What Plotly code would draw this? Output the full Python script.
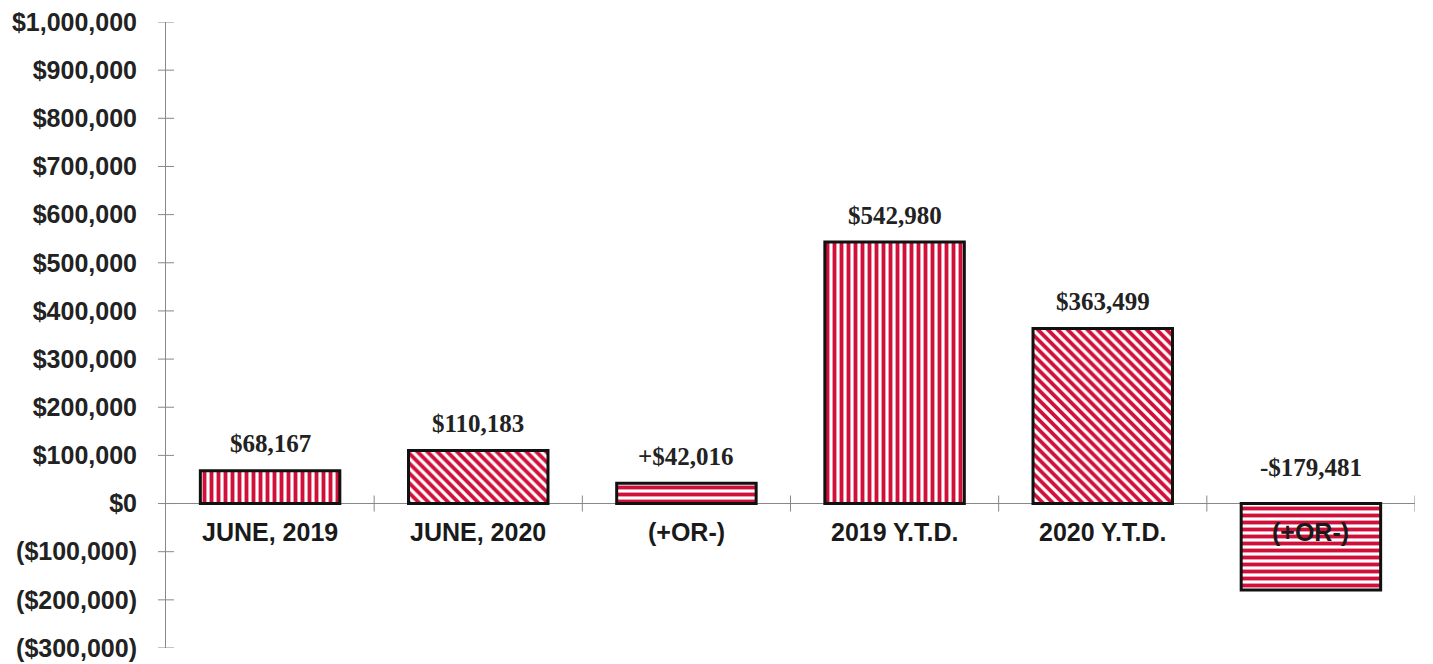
import plotly.graph_objects as go

categories = ["JUNE, 2019", "JUNE, 2020", "(+OR-)", "2019 Y.T.D.", "2020 Y.T.D.", "(+OR-)"]
values = [68167, 110183, 42016, 542980, 363499, -179481]
value_labels = ["$68,167", "$110,183", "+$42,016", "$542,980", "$363,499", "-$179,481"]
patterns = ["|", "\\", "-", "|", "\\", "-"]
tick_vals = [1000000, 900000, 800000, 700000, 600000, 500000, 400000, 300000, 200000, 100000, 0, -100000, -200000, -300000]
tick_text = ["$1,000,000", "$900,000", "$800,000", "$700,000", "$600,000", "$500,000", "$400,000",
             "$300,000", "$200,000", "$100,000", "$0", "($100,000)", "($200,000)", "($300,000)"]

RED = "#D0103A"
x = list(range(len(categories)))

fig = go.Figure()
fig.add_trace(go.Bar(
    x=x, y=values, width=0.67,
    marker=dict(
        color="white",
        line=dict(color="#111111", width=3),
        pattern=dict(shape=patterns, fgcolor=RED, bgcolor="white", fgopacity=1,
                     size=7, solidity=0.55, fillmode="replace"),
    ),
    hoverinfo="skip",
))

annotations = []
for xi, v, lab in zip(x, values, value_labels):
    annotations.append(dict(
        x=xi, y=max(v, 0), xref="x", yref="y", text=lab, showarrow=False,
        yanchor="middle", yshift=27 if v >= 0 else 36,
        font=dict(family="Liberation Serif", size=25, color="#222222", weight="bold"),
    ))
for xi, c in zip(x, categories):
    annotations.append(dict(
        x=xi, y=0, xref="x", yref="y", text=c, showarrow=False,
        yanchor="middle", yshift=-28,
        font=dict(family="Liberation Sans", size=25, color="#1a1a1a", weight="bold"),
    ))

shapes = []
# crossing tick marks on x axis at category boundaries
for b in [i + 0.5 for i in x]:
    shapes.append(dict(type="line", xref="x", yref="y", x0=b, x1=b, ysizemode="pixel",
                       yanchor=0, y0=-8, y1=8, line=dict(color="#888888", width=1)))
# crossing tick marks on y axis
for tv in tick_vals:
    shapes.append(dict(type="line", xref="paper", yref="y", y0=tv, y1=tv, xsizemode="pixel",
                       xanchor=0, x0=-8, x1=8, line=dict(color="#888888", width=1)))

fig.update_layout(
    width=1425, height=656,
    margin=dict(l=158, r=18, t=14, b=16),
    paper_bgcolor="white", plot_bgcolor="white",
    showlegend=False,
    annotations=annotations, shapes=shapes,
    xaxis=dict(range=[-0.5, 5.5], showticklabels=False, showgrid=False, zeroline=False,
               showline=False, ticks="", automargin=False),
    yaxis=dict(range=[-300000, 1000000], tickvals=tick_vals, ticktext=tick_text,
               showgrid=False, zeroline=True, zerolinecolor="#888888", zerolinewidth=1,
               showline=True, linecolor="#888888", linewidth=1, ticks="", ticklabelstandoff=23,
               automargin=False, ticklabeloverflow="allow",
               tickfont=dict(family="Liberation Sans", size=25, color="#222222", weight="bold")),
)

fig.write_html("out.html")
